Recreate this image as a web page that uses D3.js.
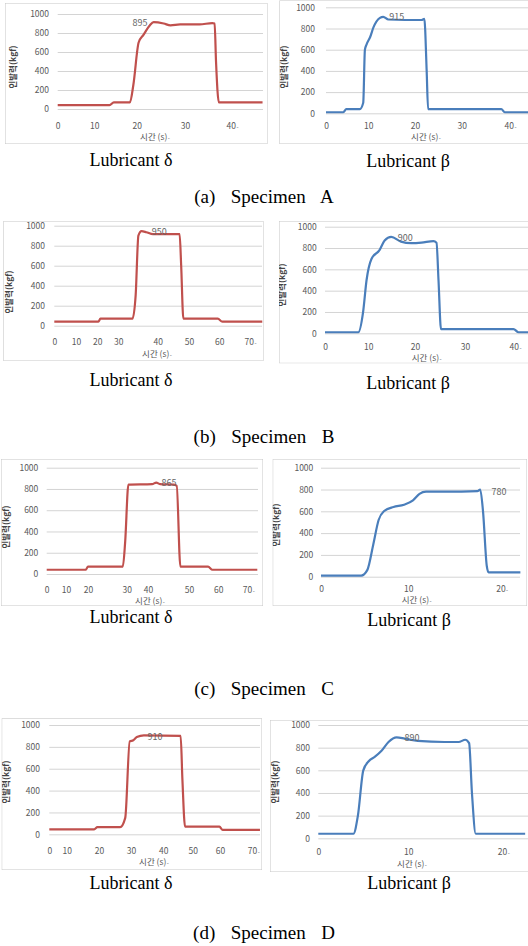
<!DOCTYPE html>
<html>
<head>
<meta charset="utf-8">
<script src="https://cdn.jsdelivr.net/npm/d3@7"></script>
<style>
  body { margin: 0; background: #fff; }
  svg { display: block; }
</style>
</head>
<body>
<svg id="fig" width="528" height="946"></svg>
<script>
// ---- tick labels ----
const yTicks = [0, 200, 400, 600, 800, 1000];
const xTicks40 = [0, 10, 20, 30, 40];
const xTicks70 = [0, 10, 20, 30, 40, 50, 60, 70];
const xTicks20 = [0, 10, 20];

// ---- series: time (s) / pull-out force (kgf) ----
const timeAd  = [0, 13.6, 14.6, 18.4, 19.2, 20.4, 21.4, 22.7, 23.5, 25.6, 27, 29, 33.1, 35.8, 36.3, 36.6, 37.2, 46.5];
const forceAd = [40, 40, 70, 70, 250, 700, 780, 880, 915, 900, 880, 890, 890, 905, 900, 500, 70, 70];

const timeAb  = [0, 4.1, 4.8, 8.0, 8.8, 9.2, 9.6, 10.4, 11.1, 12.5, 13.2, 14.3, 21.4, 22.0, 22.5, 22.8, 38.2, 38.9, 45];
const forceAb = [10, 10, 40, 40, 100, 600, 650, 720, 810, 900, 910, 885, 880, 890, 400, 40, 40, 10, 10];

const timeBd  = [0, 20.5, 21.5, 33.6, 34.4, 35.1, 35.9, 37.1, 38.8, 47, 47.5, 48.2, 59.5, 61, 74];
const forceBd = [40, 40, 70, 70, 300, 900, 945, 935, 915, 915, 600, 70, 70, 40, 40];

const timeBb  = [0, 7.7, 8.8, 9.6, 10.7, 12.4, 13.5, 14.9, 17, 19.2, 21.3, 23.7, 24.3, 24.7, 25.2, 39.7, 40.7, 43];
const forceBb = [10, 10, 200, 500, 700, 780, 870, 905, 860, 845, 850, 865, 850, 500, 40, 40, 10, 10];

const timeCd  = [0, 19, 20, 29, 29.6, 30.8, 41, 42, 43, 46.3, 47, 47.9, 56.5, 58, 73];
const forceCd = [40, 40, 70, 70, 300, 840, 845, 860, 845, 840, 830, 70, 70, 40, 40];

const timeCb  = [0, 4.6, 5.3, 6, 6.6, 7.2, 8.3, 9.5, 10.5, 11.2, 11.9, 14, 17.4, 17.7, 18, 18.4, 18.6, 22];
const forceCb = [10, 10, 60, 300, 520, 600, 640, 660, 700, 760, 780, 780, 785, 800, 600, 100, 40, 40];

const timeDd  = [0, 18.5, 19.5, 26.6, 28.2, 29.6, 30.7, 31.8, 34, 45.9, 46.5, 47.4, 59.8, 60.8, 72];
const forceDd = [45, 45, 65, 65, 150, 850, 860, 890, 905, 900, 500, 70, 70, 40, 40];

const timeDb  = [0, 3.9, 4.4, 5, 5.6, 6.3, 7, 7.8, 8.7, 9.6, 11, 13.8, 15.3, 16, 16.4, 16.7, 17.1, 22.3];
const forceDb = [40, 40, 200, 600, 680, 720, 770, 850, 890, 880, 860, 850, 850, 870, 840, 400, 40, 40];

// peak annotations
const peakText  = ["895", "915", "950", "900", "865", "780", "910", "890"];
const peakTime  = [20.7, 16.1, 40.5, 17.9, 45.1, 18.9, 37.4, 10.4];
const peakForce = [908, 911, 934, 891, 853, 774, 893, 883];

// captions
const lubricants = ["Lubricant \u03b4", "Lubricant \u03b2"];
const specimens = ["(a)  Specimen  A", "(b)  Specimen  B", "(c)  Specimen  C", "(d)  Specimen  D"];

// ---- layout of the eight scanned Excel charts ----
const RED = "#c0504d", BLUE = "#4a7ebb";
const panels = [
  { id: "ad", time: timeAd, force: forceAd, ticks: xTicks40, color: RED,
    box: [5, 3, 267.5, 144], xpx: [57.7, 94.3, 136.7, 185, 232], y0: 109, y1: 14, right: 263,
    xLabY: 126, title: [155, 137.5], yTickRight: 49, yLab: [13, 67] },
  { id: "ab", time: timeAb, force: forceAb, ticks: xTicks40, color: BLUE,
    box: [279.3, 0.5, 530, 144], xpx: [326, 368.3, 415, 461.7, 510], y0: 113.3, y1: 7.3, right: 528,
    xLabY: 126, title: [426, 137.5], yTickRight: 315, yLab: [284.5, 67] },
  { id: "bd", time: timeBd, force: forceBd, ticks: xTicks70, color: RED,
    box: [3.3, 221, 263.5, 361], xpx: [54.3, 76, 97.3, 118.3, 157.7, 189, 219.3, 250], y0: 325.7, y1: 225.7, right: 262,
    xLabY: 342.5, title: [157, 354.5], yTickRight: 45, yLab: [9, 292] },
  { id: "bb", time: timeBb, force: forceBb, ticks: xTicks40, color: BLUE,
    box: [279, 221, 530, 363.3], xpx: [325, 368.3, 415, 465, 515], y0: 333.3, y1: 226.7, right: 528,
    xLabY: 347.5, title: [426.7, 358.5], yTickRight: 316.7, yLab: [282, 285] },
  { id: "cd", time: timeCd, force: forceCd, ticks: xTicks70, color: RED,
    box: [1, 459, 263, 606], xpx: [46.7, 66, 88, 126.7, 148, 189, 218.3, 248.3], y0: 574, y1: 467.7, right: 258,
    xLabY: 590.5, title: [150, 601.5], yTickRight: 38.3, yLab: [6, 527] },
  { id: "cb", time: timeCb, force: forceCb, ticks: xTicks20, color: BLUE,
    box: [272.7, 459, 527, 606], xpx: [321, 408.3, 501.7], y0: 576.7, y1: 467.7, right: 520,
    xLabY: 589, title: [416.7, 600], yTickRight: 313.3, yLab: [276, 525] },
  { id: "dd", time: timeDd, force: forceDd, ticks: xTicks70, color: RED,
    box: [1.7, 718.3, 262, 870], xpx: [49.3, 66.7, 99, 131, 163.3, 192.7, 220, 253.3], y0: 834.3, y1: 725, right: 260,
    xLabY: 851, title: [154, 862.5], yTickRight: 40, yLab: [6, 782] },
  { id: "db", time: timeDb, force: forceDb, ticks: xTicks20, color: BLUE,
    box: [270, 720, 530, 872], xpx: [318.3, 408.3, 503.3], y0: 838.3, y1: 725, right: 528,
    xLabY: 852.5, title: [412, 864], yTickRight: 310, yLab: [275, 782] }
];
const lubPos = [[131, 160, 408, 161], [131, 380, 408, 383], [131, 617, 409, 620], [131, 883, 409, 883]];
const specY = [196, 436, 688, 932];

const svg = d3.select("#fig");
const sans = "'Noto Sans CJK KR', 'Noto Sans', sans-serif";
const serif = "'Liberation Serif', 'Times New Roman', serif";

panels.forEach((p, i) => {
  const [bx0, by0, bx1, by1] = p.box;
  svg.append("clipPath").attr("id", "clip-" + p.id)
    .append("rect").attr("x", bx0).attr("y", by0).attr("width", bx1 - bx0).attr("height", by1 - by0);

  const g = svg.append("g").attr("clip-path", `url(#clip-${p.id})`);
  g.append("rect")
    .attr("x", bx0).attr("y", by0).attr("width", bx1 - bx0).attr("height", by1 - by0)
    .attr("fill", "#fff").attr("stroke", "#c6c6c6");

  const x = d3.scaleLinear().domain(p.ticks).range(p.xpx);
  const y = d3.scaleLinear().domain([0, 1000]).range([p.y0, p.y1]);

  // horizontal gridlines + y tick labels
  const yAxis = g.append("g")
    .attr("transform", `translate(${p.xpx[0]},0)`)
    .call(d3.axisLeft(y).tickValues(yTicks).tickFormat(d3.format("d"))
      .tickSize(-(p.right - p.xpx[0]))
      .tickPadding(p.xpx[0] - p.yTickRight));
  yAxis.select(".domain").remove();
  yAxis.selectAll("line").attr("stroke", "#d4d4d4");
  yAxis.selectAll("text").attr("fill", "#5a5a5a").attr("font-size", 8.5).attr("font-family", sans);

  // x tick labels
  const xAxis = g.append("g")
    .attr("transform", `translate(0,${p.xLabY})`)
    .call(d3.axisBottom(x).tickValues(p.ticks).tickSize(0).tickPadding(0));
  xAxis.select(".domain").remove();
  xAxis.selectAll("text").attr("dy", "0.35em")
    .attr("fill", "#5a5a5a").attr("font-size", 8.5).attr("font-family", sans);
  xAxis.selectAll(".tick:last-of-type text").append("tspan")
    .attr("font-size", 6).attr("dx", 0.5).text("-");

  // x axis title
  const t = g.append("text")
    .attr("x", p.title[0]).attr("y", p.title[1]).attr("dy", "0.35em")
    .attr("text-anchor", "middle").attr("fill", "#555")
    .attr("font-size", 8.5).attr("font-family", sans)
    .text("시간 (s)");
  t.append("tspan").attr("font-size", 6).attr("dx", 0.5).text("-");

  // y axis title
  g.append("text")
    .attr("transform", `translate(${p.yLab[0]},${p.yLab[1]}) rotate(-90)`)
    .attr("dy", "0.35em").attr("text-anchor", "middle")
    .attr("fill", "#444").attr("font-weight", "bold")
    .attr("font-size", 8.5).attr("font-family", sans)
    .text("인발력(kgf)");

  // force curve
  g.append("path")
    .datum(d3.zip(p.time, p.force))
    .attr("fill", "none").attr("stroke", p.color).attr("stroke-width", 2.2)
    .attr("stroke-linejoin", "round")
    .attr("d", d3.line().x(d => x(d[0])).y(d => y(d[1])).curve(d3.curveMonotoneX));

  // peak value label
  g.append("text")
    .attr("x", x(peakTime[i])).attr("y", y(peakForce[i])).attr("dy", "0.35em")
    .attr("text-anchor", p.id === "cb" ? "start" : "middle")
    .attr("fill", "#666").attr("font-size", 9).attr("font-family", sans)
    .text(peakText[i]);
});

// captions
lubPos.forEach((pos, r) => {
  [0, 1].forEach(k => {
    svg.append("text")
      .attr("x", pos[k * 2]).attr("y", pos[k * 2 + 1]).attr("dy", "0.35em")
      .attr("text-anchor", "middle").attr("font-size", 18).attr("font-family", serif)
      .text(lubricants[k]);
  });
  svg.append("text")
    .attr("x", 264).attr("y", specY[r]).attr("dy", "0.35em")
    .attr("text-anchor", "middle").attr("font-size", 19).attr("font-family", serif)
    .attr("word-spacing", 3)
    .style("white-space", "pre")
    .text(specimens[r]);
});
</script>
</body>
</html>
